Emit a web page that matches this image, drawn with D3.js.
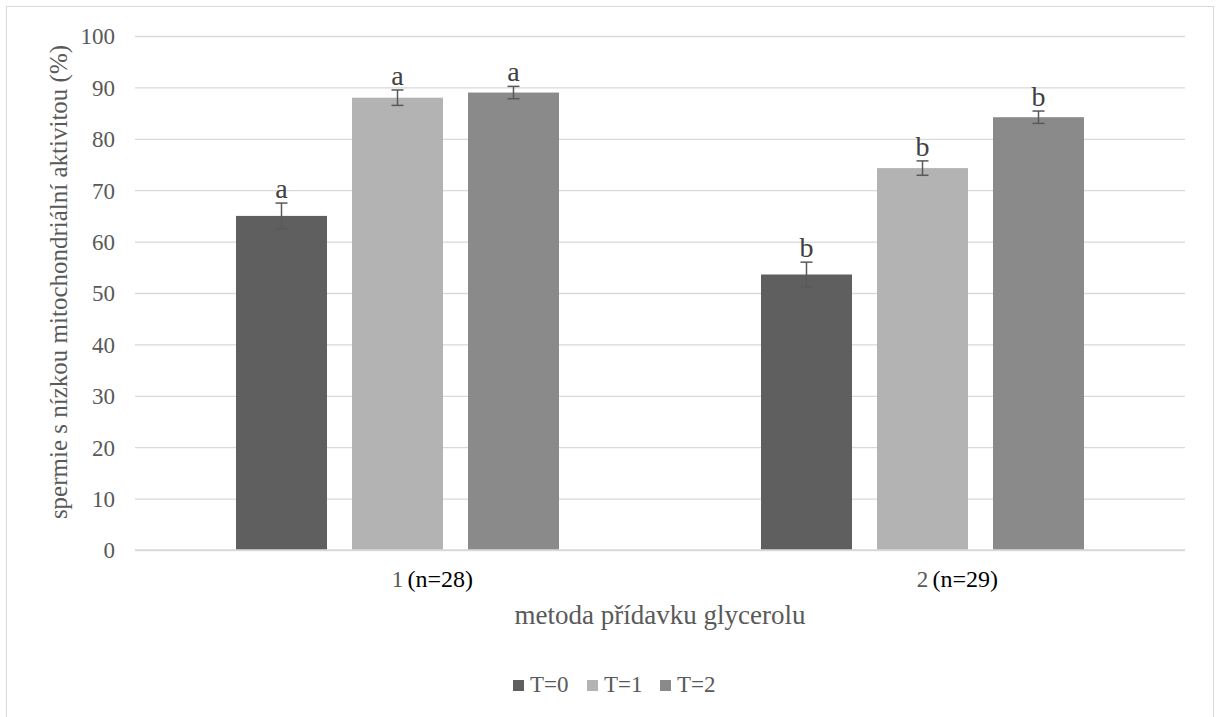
<!DOCTYPE html>
<html>
<head>
<meta charset="utf-8">
<script src="https://cdn.jsdelivr.net/npm/d3@7"></script>
<style>
    body { margin: 0; background: #fff; }
    svg text { font-family: "Liberation Serif", "Times New Roman", Times, "DejaVu Serif", serif; }
</style>
</head>
<body>
<svg id="chart"></svg>
<script>
const categories = ['1', '2']
const sampleSizes = ['(n=28)', '(n=29)']
const seriesNames = ['T=0', 'T=1', 'T=2']
const seriesColors = ['#5f5f5f', '#b3b3b3', '#8a8a8a']
// values[series][category]
const values = [
    [65.0, 53.6],
    [88.0, 74.3],
    [89.0, 84.2],
]
const errors = [
    [2.5, 2.4],
    [1.5, 1.4],
    [1.2, 1.2],
]
const letters = [
    ['a', 'b'],
    ['a', 'b'],
    ['a', 'b'],
]
const yTicks = [0, 10, 20, 30, 40, 50, 60, 70, 80, 90, 100]

const width = 1219
const height = 717
const plot = { left: 135, right: 1185, top: 36, bottom: 550 }

const svg = d3.select('#chart')
    .attr('width', width)
    .attr('height', height)

// outer frame
svg.append('rect')
    .attr('x', 6.5).attr('y', 6.5)
    .attr('width', 1207).attr('height', 720)
    .attr('fill', 'none')
    .attr('stroke', '#d9d9d9')

const x = d3.scaleBand().domain(categories).range([plot.left, plot.right])
const y = d3.scaleLinear().domain([0, 100]).range([plot.bottom, plot.top])

const barWidth = 91
const barGap = 25
const barOffset = i => x.bandwidth() / 2 - (3 * barWidth + 2 * barGap) / 2 + i * (barWidth + barGap)

// gridlines + y tick labels
const yAxis = d3.axisLeft(y).tickValues(yTicks).tickSize(-(plot.right - plot.left)).tickPadding(20)
const yAxisGroup = svg.append('g')
    .attr('transform', `translate(${plot.left},0)`)
    .call(yAxis)
    .attr('font-family', null)
    .attr('font-size', null)
yAxisGroup.select('.domain').remove()
yAxisGroup.selectAll('.tick line').attr('stroke', '#d9d9d9').attr('stroke-width', 1.3)
yAxisGroup.selectAll('.tick text')
    .attr('fill', '#595959')
    .attr('dy', '0.34em')
    .style('font-size', '23px')

// bars
const rows = []
values.forEach((serie, si) => serie.forEach((v, ci) => rows.push({
    si, ci, v, err: errors[si][ci], letter: letters[si][ci],
})))

const bars = svg.append('g')
bars.selectAll('rect')
    .data(rows)
    .join('rect')
    .attr('x', d => x(categories[d.ci]) + barOffset(d.si))
    .attr('y', d => y(d.v))
    .attr('width', barWidth)
    .attr('height', d => y(0) - y(d.v))
    .attr('fill', d => seriesColors[d.si])

// baseline
svg.append('line')
    .attr('x1', plot.left).attr('x2', plot.right)
    .attr('y1', y(0)).attr('y2', y(0))
    .attr('stroke', '#d9d9d9').attr('stroke-width', 1.3)

// error bars
const errG = svg.append('g').attr('stroke', '#595959').attr('stroke-width', 1.5)
rows.forEach(d => {
    const cx = x(categories[d.ci]) + barOffset(d.si) + barWidth / 2
    errG.append('line')
        .attr('x1', cx).attr('x2', cx)
        .attr('y1', y(d.v + d.err)).attr('y2', y(d.v - d.err))
    ;[d.v + d.err, d.v - d.err].forEach(e => {
        errG.append('line')
            .attr('x1', cx - 6).attr('x2', cx + 6)
            .attr('y1', y(e)).attr('y2', y(e))
    })
})

// significance letters
svg.append('g')
    .selectAll('text')
    .data(rows)
    .join('text')
    .attr('x', d => x(categories[d.ci]) + barOffset(d.si) + barWidth / 2)
    .attr('y', d => y(d.v + d.err) - 5)
    .attr('text-anchor', 'middle')
    .attr('fill', '#404040')
    .style('font-size', '28px')
    .text(d => d.letter)

// category labels
const catG = svg.append('g')
categories.forEach((c, i) => {
    const cx = x(c) + x.bandwidth() / 2
    catG.append('text')
        .attr('x', cx).attr('y', 587)
        .attr('text-anchor', 'middle')
        .attr('fill', '#595959')
        .style('font-size', '23px')
        .text(c)
    catG.append('text')
        .attr('x', cx + 10).attr('y', 587)
        .attr('fill', '#000')
        .style('font-size', '24px')
        .text(sampleSizes[i])
})

// axis titles
svg.append('text')
    .attr('x', (plot.left + plot.right) / 2).attr('y', 624)
    .attr('text-anchor', 'middle')
    .attr('fill', '#595959')
    .style('font-size', '27px')
    .text('metoda přídavku glycerolu')

svg.append('text')
    .attr('transform', 'translate(67,282) rotate(-90)')
    .attr('text-anchor', 'middle')
    .attr('fill', '#595959')
    .style('font-size', '25px')
    .text('spermie s nízkou mitochondriální aktivitou (%)')

// legend
const legendX = [513, 587, 660]
const legend = svg.append('g')
seriesNames.forEach((name, i) => {
    legend.append('rect')
        .attr('x', legendX[i]).attr('y', 680)
        .attr('width', 11).attr('height', 11)
        .attr('fill', seriesColors[i])
    legend.append('text')
        .attr('x', legendX[i] + 17).attr('y', 692)
        .attr('fill', '#595959')
        .style('font-size', '23px')
        .text(name)
})
</script>
</body>
</html>
